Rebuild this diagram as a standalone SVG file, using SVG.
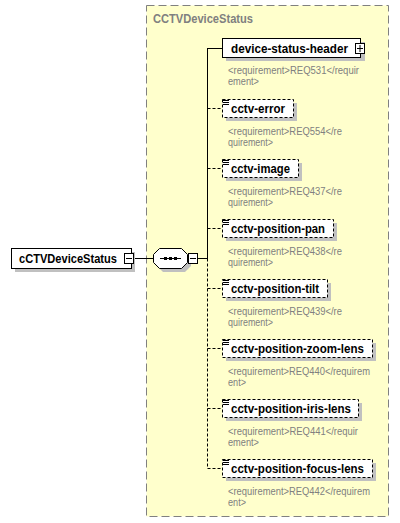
<svg xmlns="http://www.w3.org/2000/svg" width="400" height="523" viewBox="0 0 400 523">
<defs>
<style>
.bg{fill:#ffffff}
.grp{fill:#ffffcc;stroke:#808080;stroke-width:1;stroke-dasharray:8 4}
.title{font-family:"Liberation Sans",Arial,sans-serif;font-weight:bold;font-size:12px;fill:#808080}
.shadow{fill:#c0c0c0}
.box{fill:#ffffff;stroke:#000000;stroke-width:1}
.opt{fill:#ffffff;stroke:#000000;stroke-width:1;stroke-dasharray:3 2}
.name{font-family:"Liberation Sans",Arial,sans-serif;font-weight:bold;font-size:13px;fill:#000000}
.desc{font-family:"Liberation Sans",Arial,sans-serif;font-size:10px;fill:#808080}
.ln{stroke:#000000;stroke-width:1;fill:none}
.dl{stroke:#000000;stroke-width:1;fill:none;stroke-dasharray:3 2}
.icon{fill:#ffffff;stroke:#000000;stroke-width:1}
</style>
</defs>
<rect class="bg" x="0" y="0" width="400" height="523"/>
<rect class="grp" x="146.5" y="5.5" width="242" height="511"/>
<text class="title" x="153" y="23" textLength="100" lengthAdjust="spacingAndGlyphs">CCTVDeviceStatus</text>

<g id="connectors">
<line class="ln" x1="134" y1="258.5" x2="153" y2="258.5"/>
<line class="ln" x1="198" y1="258.5" x2="208" y2="258.5"/>
<line class="ln" x1="207.5" y1="48" x2="207.5" y2="258.5"/>
<line class="dl" x1="207.5" y1="258.5" x2="207.5" y2="468"/>
<line class="ln" x1="207.5" y1="48.5" x2="222" y2="48.5"/>
<line class="dl" x1="207.5" y1="108.5" x2="222" y2="108.5"/>
<line class="dl" x1="207.5" y1="168.5" x2="222" y2="168.5"/>
<line class="dl" x1="207.5" y1="228.5" x2="222" y2="228.5"/>
<line class="dl" x1="207.5" y1="288.5" x2="222" y2="288.5"/>
<line class="dl" x1="207.5" y1="348.5" x2="222" y2="348.5"/>
<line class="dl" x1="207.5" y1="408.5" x2="222" y2="408.5"/>
<line class="dl" x1="207.5" y1="468.5" x2="222" y2="468.5"/>
</g>

<g id="root">
<rect class="shadow" x="15" y="252" width="120" height="20"/>
<rect class="box" x="11.5" y="248.5" width="120" height="20"/>
<text class="name" x="19" y="263" textLength="98" lengthAdjust="spacingAndGlyphs">cCTVDeviceStatus</text>
<rect class="icon" x="124.5" y="253.5" width="9" height="10"/>
<line class="ln" x1="126" y1="258.5" x2="132" y2="258.5"/>
</g>

<g id="sequence">
<polygon class="shadow" points="163,252 185,252 191,258 191,266 185,272 163,272 157,266 157,258"/>
<polygon class="box" points="159.5,248.5 181.5,248.5 187.5,254.5 187.5,262.5 181.5,268.5 159.5,268.5 153.5,262.5 153.5,254.5"/>
<line class="ln" x1="160" y1="258.5" x2="181" y2="258.5"/>
<rect x="164" y="257" width="3" height="3" fill="#000"/>
<rect x="169" y="257" width="3" height="3" fill="#000"/>
<rect x="174" y="257" width="3" height="3" fill="#000"/>
<rect class="icon" x="188.5" y="253.5" width="9" height="10"/>
<line class="ln" x1="190" y1="258.5" x2="196" y2="258.5"/>
</g>

<g id="device-status-header">
<rect class="shadow" x="226" y="42" width="139" height="19"/>
<rect class="box" x="222.5" y="38.5" width="138" height="19"/>
<text class="name" x="231" y="53" textLength="117" lengthAdjust="spacingAndGlyphs">device-status-header</text>
<rect class="icon" x="355.5" y="43.5" width="9" height="10"/>
<line class="ln" x1="357" y1="48.5" x2="363" y2="48.5"/>
<line class="ln" x1="360" y1="45" x2="360" y2="52"/>
<text class="desc" x="228" y="74" textLength="131" lengthAdjust="spacingAndGlyphs">&lt;requirement&gt;REQ531&lt;/requir</text>
<text class="desc" x="228" y="85" textLength="31" lengthAdjust="spacingAndGlyphs">ement&gt;</text>
</g>

<g id="cctv-error">
<rect class="shadow" x="226" y="103" width="71" height="18"/>
<rect class="opt" x="222.5" y="99.5" width="71" height="18"/>
<path class="ln" d="M223 100.5h6M223 102.5h6M223 104.5h6"/>
<text class="name" x="231" y="113" textLength="54" lengthAdjust="spacingAndGlyphs">cctv-error</text>
<text class="desc" x="228" y="135" textLength="114" lengthAdjust="spacingAndGlyphs">&lt;requirement&gt;REQ554&lt;/re</text>
<text class="desc" x="228" y="146" textLength="45" lengthAdjust="spacingAndGlyphs">quirement&gt;</text>
</g>

<g id="cctv-image">
<rect class="shadow" x="226" y="163" width="76" height="18"/>
<rect class="opt" x="222.5" y="159.5" width="76" height="18"/>
<path class="ln" d="M223 160.5h6M223 162.5h6M223 164.5h6"/>
<text class="name" x="231" y="173" textLength="59" lengthAdjust="spacingAndGlyphs">cctv-image</text>
<text class="desc" x="228" y="195" textLength="114" lengthAdjust="spacingAndGlyphs">&lt;requirement&gt;REQ437&lt;/re</text>
<text class="desc" x="228" y="206" textLength="45" lengthAdjust="spacingAndGlyphs">quirement&gt;</text>
</g>

<g id="cctv-position-pan">
<rect class="shadow" x="226" y="223" width="111" height="18"/>
<rect class="opt" x="222.5" y="219.5" width="111" height="18"/>
<path class="ln" d="M223 220.5h6M223 222.5h6M223 224.5h6"/>
<text class="name" x="231" y="233" textLength="94" lengthAdjust="spacingAndGlyphs">cctv-position-pan</text>
<text class="desc" x="228" y="255" textLength="114" lengthAdjust="spacingAndGlyphs">&lt;requirement&gt;REQ438&lt;/re</text>
<text class="desc" x="228" y="266" textLength="45" lengthAdjust="spacingAndGlyphs">quirement&gt;</text>
</g>

<g id="cctv-position-tilt">
<rect class="shadow" x="226" y="283" width="105" height="18"/>
<rect class="opt" x="222.5" y="279.5" width="105" height="18"/>
<path class="ln" d="M223 280.5h6M223 282.5h6M223 284.5h6"/>
<text class="name" x="231" y="293" textLength="88" lengthAdjust="spacingAndGlyphs">cctv-position-tilt</text>
<text class="desc" x="228" y="315" textLength="114" lengthAdjust="spacingAndGlyphs">&lt;requirement&gt;REQ439&lt;/re</text>
<text class="desc" x="228" y="326" textLength="45" lengthAdjust="spacingAndGlyphs">quirement&gt;</text>
</g>

<g id="cctv-position-zoom-lens">
<rect class="shadow" x="226" y="343" width="150" height="18"/>
<rect class="opt" x="222.5" y="339.5" width="150" height="18"/>
<path class="ln" d="M223 340.5h6M223 342.5h6M223 344.5h6"/>
<text class="name" x="231" y="353" textLength="133" lengthAdjust="spacingAndGlyphs">cctv-position-zoom-lens</text>
<text class="desc" x="228" y="375" textLength="142" lengthAdjust="spacingAndGlyphs">&lt;requirement&gt;REQ440&lt;/requirem</text>
<text class="desc" x="228" y="386" textLength="18" lengthAdjust="spacingAndGlyphs">ent&gt;</text>
</g>

<g id="cctv-position-iris-lens">
<rect class="shadow" x="226" y="403" width="136" height="18"/>
<rect class="opt" x="222.5" y="399.5" width="136" height="18"/>
<path class="ln" d="M223 400.5h6M223 402.5h6M223 404.5h6"/>
<text class="name" x="231" y="413" textLength="120" lengthAdjust="spacingAndGlyphs">cctv-position-iris-lens</text>
<text class="desc" x="228" y="435" textLength="130" lengthAdjust="spacingAndGlyphs">&lt;requirement&gt;REQ441&lt;/requir</text>
<text class="desc" x="228" y="446" textLength="31" lengthAdjust="spacingAndGlyphs">ement&gt;</text>
</g>

<g id="cctv-position-focus-lens">
<rect class="shadow" x="226" y="463" width="150" height="18"/>
<rect class="opt" x="222.5" y="459.5" width="150" height="18"/>
<path class="ln" d="M223 460.5h6M223 462.5h6M223 464.5h6"/>
<text class="name" x="231" y="473" textLength="133" lengthAdjust="spacingAndGlyphs">cctv-position-focus-lens</text>
<text class="desc" x="228" y="495" textLength="142" lengthAdjust="spacingAndGlyphs">&lt;requirement&gt;REQ442&lt;/requirem</text>
<text class="desc" x="228" y="506" textLength="18" lengthAdjust="spacingAndGlyphs">ent&gt;</text>
</g>
</svg>
